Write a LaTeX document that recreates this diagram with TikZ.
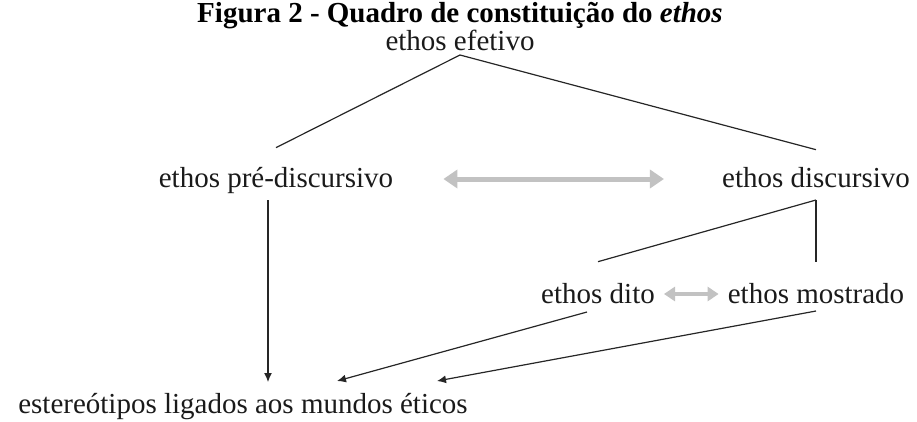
\documentclass[tikz,border=0pt]{standalone}
\usepackage{fontspec}
\setmainfont{Liberation Serif}
\usetikzlibrary{arrows.meta}
\definecolor{inkgray}{HTML}{1A1A1A}
\definecolor{lightarrow}{HTML}{C2C2C2}
\newcommand{\setupcoords}{
    \coordinate (c0) at (460,50);  % ethos efetivo
    \coordinate (c1) at (276,187); % pre-discursivo
    \coordinate (c2) at (816,187); % discursivo
    \coordinate (c3) at (598,303); % dito
    \coordinate (c4) at (816,303); % mostrado
    \coordinate (c5) at (243,413); % estereotipos

    \coordinate (tipPre)  at (268,382);
    \coordinate (tipDito) at (337,381);
    \coordinate (tipMost) at (437,381);
}
\tikzset{
    lbl/.style={inner sep=0pt, anchor=base, text=inkgray, font=\fontsize{29}{32}\selectfont},
    link/.style={draw=black!85, line width=1.2pt},
    arr/.style={link, -{Latex[length=9pt,width=8pt]}},
    bigswap/.style={draw=lightarrow, line width=5pt, {Triangle[length=14pt,width=18pt]}-{Triangle[length=14pt,width=18pt]}},
    smallswap/.style={draw=lightarrow, line width=4.5pt, {Triangle[length=11pt,width=14pt]}-{Triangle[length=11pt,width=14pt]}}
}

\begin{document}
\begin{tikzpicture}[x=1pt,y=-1pt]
          \useasboundingbox (0,0) rectangle (917,421);
          \setupcoords;

          \node[anchor=base, inner sep=0pt, font=\fontsize{29}{32}\selectfont\bfseries] (title) at (460,22)
               {Figura 2 - Quadro de constitui\c{c}\~ao do \textit{ethos}};

          \node[lbl] (efetivo) at (c0) {ethos efetivo};
          \node[lbl] (pre) at (c1) {ethos pré-discursivo};
          \node[lbl] (disc) at (c2) {ethos discursivo};
          \node[lbl] (dito) at (c3) {ethos dito};
          \node[lbl] (most) at (c4) {ethos mostrado};
          \node[lbl] (stereo) at (c5) {estereótipos ligados aos mundos éticos};

          \draw[link] ([yshift=-5pt]efetivo.base) -- ([yshift=19pt]pre.north);
          \draw[link] ([yshift=-5pt]efetivo.base) -- ([yshift=17pt]disc.north);

          \draw[bigswap] ([xshift=50pt,yshift=8pt]pre.base east) -- ([xshift=-58pt,yshift=8pt]disc.base west);

          \draw[link] ([yshift=-13pt]disc.base) -- ([yshift=21pt]dito.north);
          \draw[link] ([yshift=-13pt]disc.base) -- ([yshift=21pt]most.north);

          \draw[smallswap] ([xshift=9pt,yshift=9pt]dito.base east) -- ([xshift=-9pt,yshift=9pt]most.base west);

          \draw[arr] ([xshift=-8pt,yshift=-13pt]pre.base) -- (tipPre);
          \draw[arr] ([xshift=-11pt,yshift=-9pt]dito.base) -- (tipDito);
          \draw[arr] ([yshift=-8pt]most.base) -- (tipMost);
        \end{tikzpicture}
\end{document}
